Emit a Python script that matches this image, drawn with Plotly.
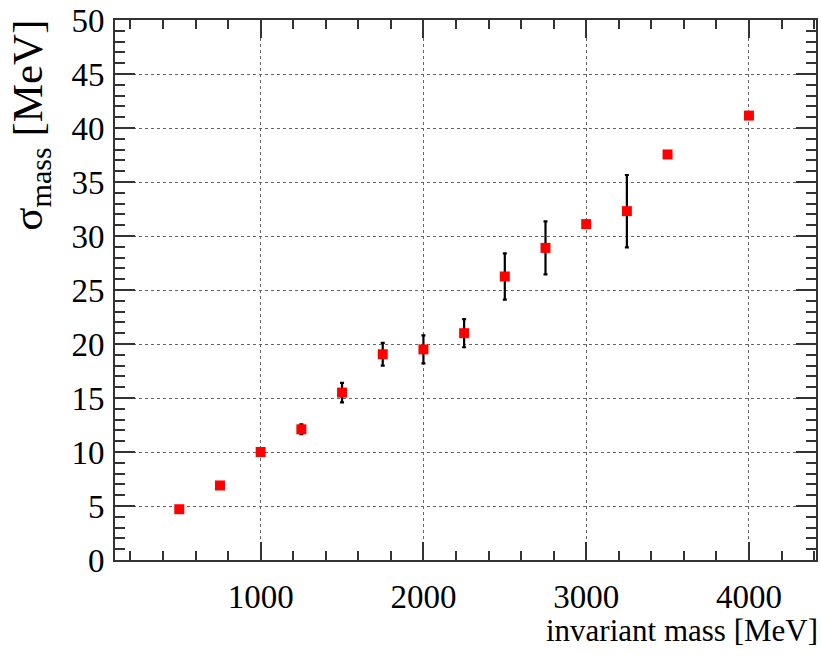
import plotly.graph_objects as go

mass = [500, 750, 1000, 1250, 1500, 1750, 2000, 2250, 2500, 2750, 3000, 3250, 3500, 4000]
sigma = [4.7, 6.9, 10.0, 12.1, 15.5, 19.05, 19.5, 21.0, 26.25, 28.9, 31.1, 32.3, 37.55, 41.15]
sigma_err = [0.0, 0.0, 0.3, 0.45, 0.9, 1.05, 1.3, 1.3, 2.15, 2.45, 0.3, 3.35, 0.0, 0.3]

x_ticks = [1000, 2000, 3000, 4000]
y_ticks = [0, 5, 10, 15, 20, 25, 30, 35, 40, 45, 50]

FONT = "Liberation Serif"

fig = go.Figure()
fig.add_trace(go.Scatter(
    x=mass, y=sigma, mode="markers",
    marker=dict(symbol="square", size=10, color="#ff0000", line=dict(width=0)),
    error_y=dict(type="data", array=sigma_err, visible=True, color="black", thickness=2.2, width=2),
))

axis_common = dict(
    showline=True, linecolor="#333333", linewidth=2, mirror="allticks",
    ticks="inside", tickcolor="#333333", tickwidth=2,
    showgrid=True, gridcolor="#666666", griddash="dot", gridwidth=1,
    zeroline=False,
    tickfont=dict(family=FONT, size=33, color="black"),
)

fig.update_xaxes(
    range=[105, 4412], tickvals=x_ticks, ticklen=18,
    minor=dict(dtick=200, tick0=0, ticklen=9, ticks="inside", tickcolor="#333333", tickwidth=2, showgrid=False),
    ticklabelstandoff=6,
    **axis_common,
)
fig.update_yaxes(
    range=[0, 50], tickvals=y_ticks, ticklen=20,
    minor=dict(dtick=1, tick0=0, ticklen=10, ticks="inside", tickcolor="#333333", tickwidth=2, showgrid=False),
    ticklabelstandoff=2,
    **axis_common,
)

fig.add_annotation(
    text="invariant mass [MeV]", xref="paper", yref="paper",
    x=1.006, y=-0.13, xanchor="right", yanchor="middle", showarrow=False,
    font=dict(family=FONT, size=31, color="black"),
)
fig.add_annotation(
    text="σ<sub>mass</sub> [MeV]", xref="paper", yref="paper",
    x=-0.12, y=1.005, xanchor="center", yanchor="top", textangle=-90, showarrow=False,
    font=dict(family=FONT, size=43, color="black"),
)

fig.update_layout(
    width=821, height=658,
    margin=dict(l=115, r=3, t=20, b=98),
    paper_bgcolor="white", plot_bgcolor="white",
    showlegend=False,
)

fig.write_html("out.html")
